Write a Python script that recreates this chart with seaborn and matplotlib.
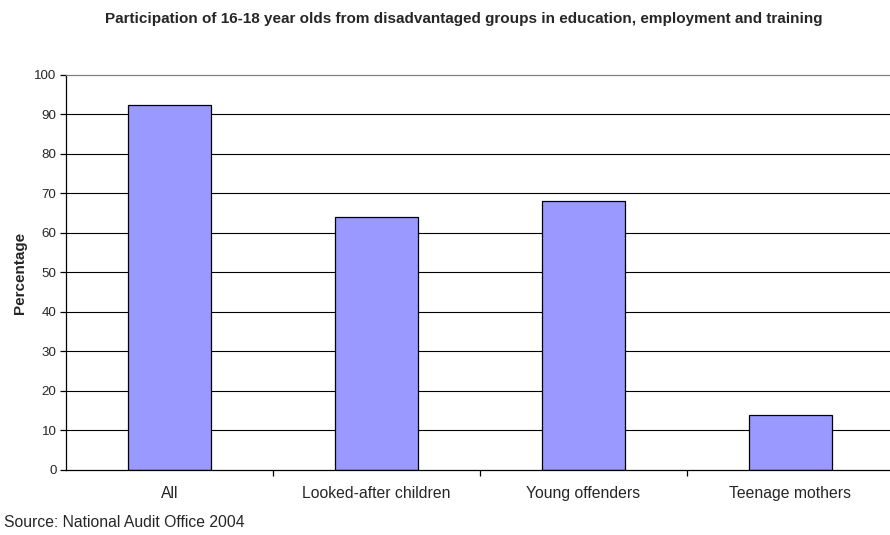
import matplotlib
matplotlib.use("Agg")
import matplotlib.pyplot as plt
import seaborn as sns
import pandas as pd
import numpy as np

categories = ["All", "Looked-after children", "Young offenders", "Teenage mothers"]
values = [92.4, 64, 68, 14]
yticks = list(range(0, 101, 10))

sns.set_theme(style="white")
plt.rcParams['font.family'] = ['Liberation Sans', 'DejaVu Sans']

df = pd.DataFrame({"cat": categories, "val": values})

fig = plt.figure(figsize=(8.9, 5.35), dpi=100)
ax = fig.add_axes([0.0744, 0.1215, 0.930, 0.7385])

for y in yticks[1:-1]:
    ax.axhline(y, color="black", lw=0.8, zorder=0)
sns.barplot(data=df, x="cat", y="val", color="#9999FF", saturation=1, width=0.4,
            edgecolor="black", linewidth=0.9, ax=ax, zorder=2)

ax.set_ylim(0, 100)
ax.set_xlim(-0.5, len(categories) - 0.5)
ax.set_yticks(yticks)
ax.set_yticklabels([str(t) for t in yticks], fontsize=9.6)
ax.tick_params(axis="y", length=4, width=0.9, color="black", direction="out", left=True, pad=3)
ax.set_xticks(np.arange(len(categories)))
ax.set_xticklabels(categories, fontsize=11.3)
ax.tick_params(axis="x", length=0, pad=11.5)
ax.set_xticks(np.arange(len(categories) - 1) + 0.5, minor=True)
ax.tick_params(axis="x", which="minor", length=4, width=0.9, color="black", direction="out", bottom=True)

ax.set_xlabel("")
ax.set_ylabel("Percentage", fontsize=11, fontweight="bold")
ax.yaxis.set_label_coords(-0.047, 0.5)

for side in ["left", "bottom"]:
    ax.spines[side].set_color("black")
    ax.spines[side].set_linewidth(0.9)
ax.spines["top"].set_color("#808080")
ax.spines["top"].set_linewidth(0.9)
ax.spines["right"].set_visible(False)

fig.text(0.521, 0.9645, "Participation of 16-18 year olds from disadvantaged groups in education, employment and training",
         ha="center", va="center", fontsize=11, fontweight="bold")
fig.text(0.005, 0.024, "Source: National Audit Office 2004", ha="left", va="center", fontsize=11.3)

fig.savefig("out.png", dpi=100)
